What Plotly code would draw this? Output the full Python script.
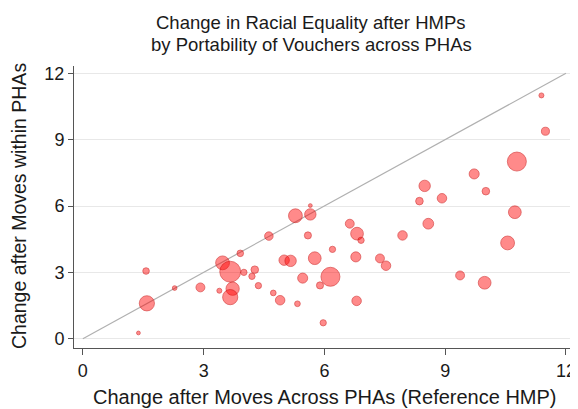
import numpy as np
import plotly.graph_objects as go

# Change after moves across PHAs (reference HMP)
across = [1.38, 1.57, 1.59, 2.28, 2.92, 3.47, 3.66, 3.72, 3.66, 3.39,
          3.91, 4.00, 4.27, 4.20, 4.36, 4.62, 4.73, 4.90, 5.00, 5.16,
          5.28, 5.33, 5.46, 5.59, 5.65, 5.65, 5.76, 5.89, 5.97, 6.15,
          6.20, 6.63, 6.81, 6.91, 6.78, 6.80, 7.38, 7.53, 7.94, 8.36,
          8.49, 8.92, 8.58, 9.37, 9.72, 10.01, 9.98, 10.55, 10.73, 10.78,
          11.39, 11.49]
# Change after moves within PHAs
within = [0.26, 3.06, 1.60, 2.29, 2.32, 3.43, 3.03, 2.26, 1.88, 2.17,
          3.86, 3.00, 3.12, 2.82, 2.40, 4.64, 2.07, 1.74, 3.55, 3.52,
          5.56, 1.58, 2.74, 4.67, 6.02, 5.62, 3.64, 2.41, 0.72, 2.80,
          4.04, 5.20, 4.75, 4.45, 3.70, 1.71, 3.63, 3.30, 4.67, 6.22,
          6.91, 6.35, 5.20, 2.86, 7.45, 6.67, 2.53, 4.33, 5.72, 8.01,
          11.00, 9.38]
# Bubble weights
weights = [4, 12, 64, 6, 22, 53, 121, 49, 64, 7,
           12, 11, 16, 11, 11, 20, 9, 25, 30, 36,
           53, 9, 28, 14, 4, 36, 45, 14, 11, 100,
           11, 22, 45, 11, 28, 25, 22, 25, 25, 16,
           36, 25, 32, 22, 28, 16, 45, 53, 45, 100,
           7, 18]
ticks = [0, 3, 6, 9, 12]
title_lines = ["Change in Racial Equality after HMPs", "by Portability of Vouchers across PHAs"]
x_title = "Change after Moves Across PHAs (Reference HMP)"
y_title = "Change after Moves within PHAs"

FONT = "Liberation Sans, Arial, sans-serif"
TXT = "#1a1a1a"
diam = 1.9 * np.sqrt(np.array(weights, dtype=float))

# page is offset by the default 8px body margin
L, T, PW, PH = 74, 66, 496, 282

fig = go.Figure()
fig.add_trace(go.Scatter(x=[ticks[0], ticks[-1]], y=[ticks[0], ticks[-1]], mode="lines",
                         line=dict(color="#b0b0b0", width=1.2), hoverinfo="skip", showlegend=False))
fig.add_trace(go.Scatter(x=across, y=within, mode="markers",
                         marker=dict(size=diam, sizemode="diameter", color="rgba(255,0,0,0.65)",
                                     line=dict(color="rgba(200,0,0,0.7)", width=1)),
                         showlegend=False))

fig.update_layout(
    width=570, height=401,
    margin=dict(l=L - 8, r=8, t=T - 8, b=61),
    paper_bgcolor="white", plot_bgcolor="white",
    font=dict(family=FONT, color=TXT),
    xaxis=dict(range=[-0.22, 12.1], tickvals=ticks, showgrid=False, zeroline=False,
               showline=True, linecolor="#555", linewidth=1, ticks="outside", ticklen=6,
               tickcolor="#555", tickfont=dict(size=18, family=FONT, color=TXT),
               automargin=False),
    yaxis=dict(range=[-0.42, 12.33], tickvals=ticks, showgrid=True, gridcolor="#e8e8e8",
               gridwidth=1, zeroline=False, showline=True, linecolor="#555", linewidth=1,
               ticks="outside", ticklen=5, tickcolor="#555",
               tickfont=dict(size=18, family=FONT, color=TXT), automargin=False),
)

annos = [
    dict(text=title_lines[0], x=311, y=23),
    dict(text=title_lines[1], x=311, y=44),
]
for a in annos:
    fig.add_annotation(text=a["text"], xref="paper", yref="paper",
                       x=(a["x"] - L) / PW, y=1 + (T - a["y"]) / PH,
                       xanchor="center", yanchor="middle", showarrow=False,
                       font=dict(size=18.5, family=FONT, color=TXT))
fig.add_annotation(text=x_title, xref="paper", yref="paper",
                   x=(325 - L) / PW, y=(T + PH - 397) / PH,
                   xanchor="center", yanchor="middle", showarrow=False,
                   font=dict(size=20, family=FONT, color=TXT))
fig.add_annotation(text=y_title, xref="paper", yref="paper",
                   x=(19 - L) / PW, y=(T + PH - 206) / PH, textangle=-90,
                   xanchor="center", yanchor="middle", showarrow=False,
                   font=dict(size=19.5, family=FONT, color=TXT))

fig.write_html("out.html")
